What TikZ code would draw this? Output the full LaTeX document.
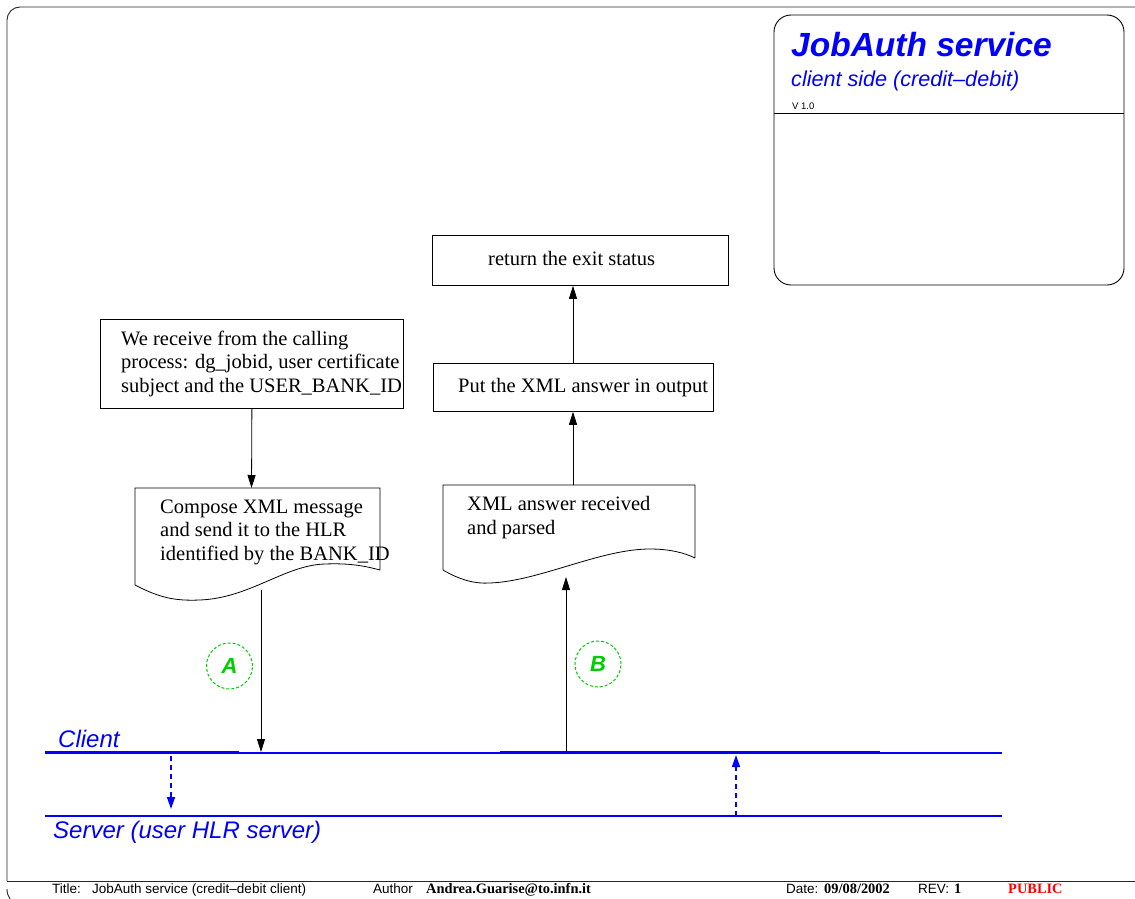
\documentclass[tikz,border=0pt]{standalone}
\usepackage{fontspec}
\setmainfont{Liberation Serif}
\newfontfamily\hel[Ligatures=TeX]{Liberation Sans}
\usetikzlibrary{arrows.meta}
\definecolor{lineblue}{RGB}{0,0,255}
\definecolor{markgreen}{RGB}{0,205,0}
\definecolor{pubred}{RGB}{255,0,0}

\begin{document}
\begin{tikzpicture}[x=1pt,y=-1pt,
  frame/.style={line width=0.9pt, black!85},
  procbox/.style={draw, line width=0.8pt, inner sep=0pt, anchor=north west},
  docshape/.style={draw, line width=0.8pt},
  boxtext/.style={font=\fontsize{20.5}{23.4}\selectfont, align=left, anchor=base west, inner sep=0pt},
  flow/.style={line width=0.8pt, -{Triangle[length=13pt,width=8pt]}},
  msg/.style={lineblue, line width=1.5pt, dash pattern=on 5pt off 4pt, -{Triangle[length=12pt,width=8pt]}},
  tierlabel/.style={lineblue, font=\hel\itshape\fontsize{24}{28}\selectfont, anchor=base west, inner sep=0pt},
  ring/.style={circle, draw=markgreen, line width=1pt, dash pattern=on 3pt off 2pt, minimum size=46pt, inner sep=0pt,
    text=markgreen, font=\hel\bfseries\itshape\fontsize{22}{26}\selectfont},
  foot/.style={font=\hel\fontsize{13.5}{15}\selectfont, anchor=base west, inner sep=0pt},
  footbold/.style={font=\bfseries\fontsize{14.4}{16}\selectfont, anchor=base west, inner sep=0pt},
]
\useasboundingbox (0,0) rectangle (1135,899);

% sheet frame and footer rule
\draw[frame, rounded corners=13pt] (7,881) -- (7,7) -- (1135,7);
\draw[frame] (7,881) -- (1135,881);
\draw[frame] (7,889) .. controls (7,893) and (8,896) .. (10,899);

% title block
\draw[line width=0.9pt, rounded corners=17pt] (774,15) rectangle (1124,285);
\draw[line width=0.9pt] (774,113) -- (1124,113);
\node[anchor=base west, inner sep=0pt, text=lineblue, font=\hel\bfseries\itshape\fontsize{33.5}{38}\selectfont] (ttl) at (791,57) {JobAuth service};
\node[anchor=base west, inner sep=0pt, text=lineblue, font=\hel\itshape\fontsize{21.6}{25}\selectfont] (sub) at (791,86) {client side (credit–debit)};
\node[anchor=base west, inner sep=0pt, font=\hel\fontsize{9.5}{11}\selectfont] (ver) at (792,109) {V 1.0};

% process boxes (multi-line text is anchored on its last baseline)
\node[procbox, minimum width=303pt, minimum height=89pt] (recv) at (100,319) {};
\node[boxtext] (recvtxt) at (121,392) {We receive from the calling\\process: dg\_jobid, user certificate\\subject and the USER\_BANK\_ID};

\node[procbox, minimum width=296pt, minimum height=50pt] (ret) at (432,235) {};
\node[boxtext] (rettxt) at (488,265) {return the exit status};

\node[procbox, minimum width=280pt, minimum height=48pt] (put) at (433,363) {};
\node[boxtext] (puttxt) at (458,392) {Put the XML answer in output};

% document shapes with wavy bottoms
\draw[docshape] (380,570) -- (380,488) -- (135,488) -- (135,585)
  .. controls (160,598) and (175,601) .. (200,600)
  .. controls (250,598) and (285,565) .. (325,564)
  .. controls (350,563) and (365,566) .. (380,570);
\coordinate (doc1in) at (251.5,488);
\coordinate (doc1out) at (261,590);
\node[boxtext] (doc1txt) at (160,560) {Compose XML message\\and send it to the HLR\\identified by the BANK\_ID};

\draw[docshape] (695,558) -- (695,485) -- (443,485) -- (443,570)
  .. controls (460,580) and (475,584) .. (490,583)
  .. controls (540,581) and (600,549) .. (650,549)
  .. controls (670,549) and (685,553) .. (695,558);
\coordinate (doc2out) at (573,485);
\coordinate (doc2in) at (566,577);
\node[boxtext] (doc2txt) at (467,534) {XML answer received\\and parsed};

% client / server tiers
\draw[lineblue, line width=2pt] (45,753) -- (1002,753);
\draw[lineblue, line width=3pt] (45,752.5) -- (239,752.5);
\draw[lineblue, line width=3pt] (500,752.5) -- (880,752.5);
\draw[lineblue, line width=2pt] (45,816) -- (1002,816);
\node[tierlabel] (client) at (58,747) {Client};
\node[tierlabel] (server) at (53,838) {Server (user HLR server)};

\coordinate (cliA) at (261,752);
\coordinate (cliB) at (566,752);
\coordinate (cliDown) at (171,756);
\coordinate (srvDown) at (171,809);
\coordinate (srvUp) at (736,816);
\coordinate (cliUp) at (736,755);

% flow connectors
\draw[flow] (recv.south) -- (doc1in);
\draw[flow] (doc1out) -- (cliA);
\draw[flow] (cliB) -- (doc2in);
\draw[flow] (doc2out) -- (put.south -| doc2out);
\draw[flow] (put.north -| doc2out) -- (ret.south -| doc2out);

% request / reply between tiers
\draw[msg] (cliDown) -- (srvDown);
\draw[msg] (srvUp) -- (cliUp);

% step markers
\node[ring] (ringA) at (229.5,666) {A};
\node[ring] (ringB) at (598,664) {B};

% footer
\node[foot] (ftitle) at (52,893) {Title:};
\node[foot] (ftitlev) at (92,893) {JobAuth service (credit–debit client)};
\node[foot] (fauth) at (373,893) {Author};
\node[footbold] (fauthv) at (426,893) {Andrea.Guarise@to.infn.it};
\node[foot] (fdate) at (786,893) {Date:};
\node[footbold] (fdatev) at (824,893) {09/08/2002};
\node[foot] (frev) at (918,893) {REV:};
\node[footbold] (frevv) at (954,893) {1};
\node[footbold, text=pubred] (fpub) at (1008,893) {PUBLIC};
\end{tikzpicture}
\end{document}
